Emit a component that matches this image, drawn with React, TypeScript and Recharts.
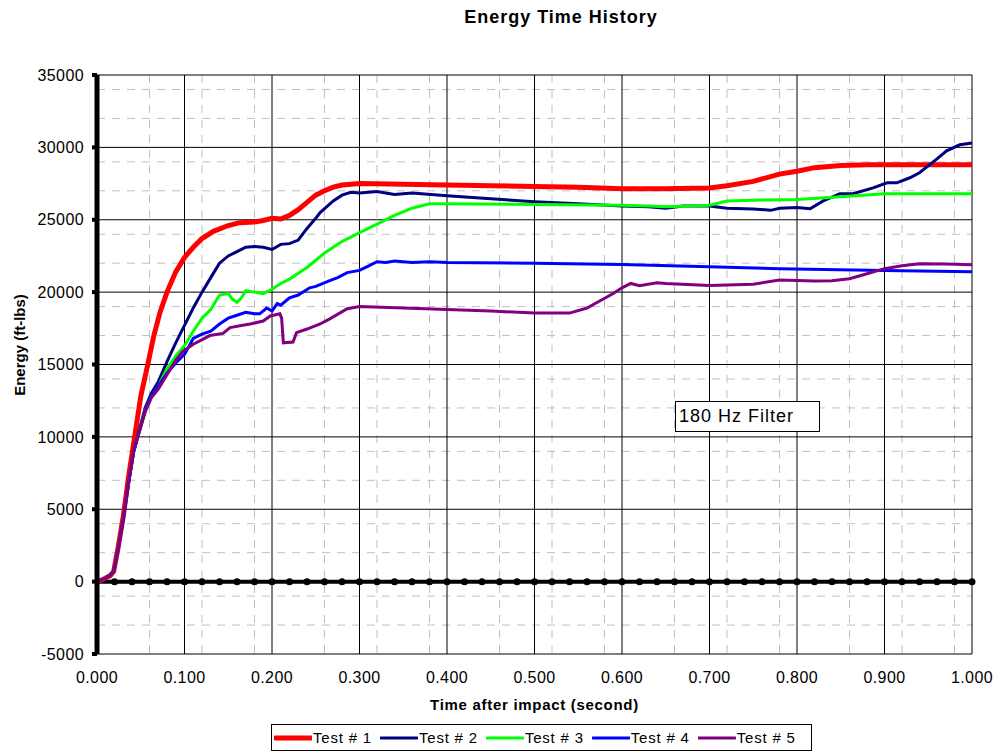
import React from 'react';
import {
  LineChart,
  Line,
  XAxis,
  YAxis,
  CartesianGrid,
  ReferenceLine,
  ReferenceDot,
} from 'recharts';

const timeTicks = [0, 0.1, 0.2, 0.3, 0.4, 0.5, 0.6, 0.7, 0.8, 0.9, 1.0];
const energyTicks = [-5000, 0, 5000, 10000, 15000, 20000, 25000, 30000, 35000];

// [time (s), energy (ft-lbs)]
const test1: [number, number][] = [
  [0, 0], [0.005, 100], [0.01, 250], [0.015, 400], [0.019, 700], [0.024, 2300],
  [0.03, 4500], [0.036, 7200], [0.043, 10000], [0.05, 12800], [0.058, 15000],
  [0.065, 17000], [0.072, 18600], [0.08, 20000], [0.09, 21400], [0.1, 22400],
  [0.11, 23100], [0.12, 23700], [0.133, 24200], [0.15, 24600], [0.163, 24800],
  [0.18, 24850], [0.19, 24950], [0.2, 25100], [0.21, 25050], [0.22, 25300],
  [0.23, 25700], [0.24, 26200], [0.25, 26700], [0.26, 27000], [0.27, 27250],
  [0.28, 27400], [0.29, 27450], [0.3, 27500], [0.35, 27450], [0.4, 27400],
  [0.45, 27350], [0.5, 27300], [0.55, 27250], [0.6, 27150], [0.65, 27150],
  [0.7, 27200], [0.72, 27350], [0.75, 27650], [0.78, 28150], [0.8, 28350],
  [0.82, 28600], [0.85, 28750], [0.88, 28800], [0.95, 28800], [1.0, 28800],
];

const test2: [number, number][] = [
  [0, 0], [0.005, 100], [0.01, 250], [0.015, 450], [0.019, 700], [0.024, 2200],
  [0.03, 4300], [0.036, 6800], [0.042, 9000], [0.048, 10400], [0.055, 12000],
  [0.062, 13000], [0.07, 13800], [0.08, 15200], [0.09, 16500], [0.1, 17700],
  [0.11, 18900], [0.12, 20000], [0.13, 21000], [0.14, 22000], [0.15, 22500],
  [0.16, 22800], [0.17, 23100], [0.18, 23150], [0.19, 23100], [0.2, 22950],
  [0.21, 23300], [0.22, 23350], [0.23, 23600], [0.24, 24400], [0.25, 25100],
  [0.255, 25500], [0.27, 26300], [0.28, 26700], [0.29, 26900], [0.3, 26850],
  [0.32, 26950], [0.34, 26750], [0.36, 26850], [0.4, 26650], [0.45, 26450],
  [0.5, 26250], [0.55, 26100], [0.6, 25950], [0.63, 25900], [0.65, 25800],
  [0.67, 25950], [0.7, 25950], [0.72, 25800], [0.75, 25750], [0.77, 25650],
  [0.78, 25800], [0.8, 25850], [0.815, 25760], [0.83, 26300], [0.849, 26800],
  [0.864, 26800], [0.887, 27200], [0.903, 27550], [0.914, 27550], [0.929, 27900],
  [0.94, 28250], [0.96, 29200], [0.971, 29760], [0.986, 30180], [1.0, 30300],
];

const test3: [number, number][] = [
  [0, 0], [0.005, 100], [0.01, 250], [0.015, 450], [0.019, 700], [0.024, 2200],
  [0.03, 4300], [0.036, 6800], [0.042, 9000], [0.048, 10300], [0.055, 11800],
  [0.062, 12800], [0.07, 13500], [0.08, 14700], [0.09, 15600], [0.1, 16300],
  [0.11, 17300], [0.12, 18200], [0.13, 18800], [0.14, 19800], [0.15, 19900],
  [0.155, 19500], [0.16, 19300], [0.165, 19600], [0.17, 20100], [0.18, 20000],
  [0.19, 19900], [0.2, 20200], [0.21, 20600], [0.22, 20900], [0.23, 21300],
  [0.24, 21700], [0.25, 22200], [0.26, 22700], [0.27, 23100], [0.28, 23500],
  [0.29, 23800], [0.3, 24100], [0.32, 24700], [0.34, 25300], [0.36, 25800],
  [0.38, 26100], [0.4, 26100], [0.5, 26050], [0.6, 26000], [0.63, 25950],
  [0.65, 25900], [0.68, 25950], [0.7, 26000], [0.72, 26300], [0.75, 26350],
  [0.8, 26400], [0.85, 26590], [0.9, 26800], [0.95, 26800], [1.0, 26800],
];

const test4: [number, number][] = [
  [0, 0], [0.005, 100], [0.01, 250], [0.015, 450], [0.019, 700], [0.024, 2200],
  [0.03, 4300], [0.036, 6800], [0.042, 9000], [0.048, 10300], [0.055, 11800],
  [0.062, 12800], [0.07, 13500], [0.08, 14400], [0.09, 15100], [0.1, 15700],
  [0.11, 16800], [0.12, 17100], [0.13, 17300], [0.14, 17800], [0.15, 18200],
  [0.16, 18400], [0.17, 18600], [0.18, 18500], [0.186, 18500], [0.194, 18900],
  [0.2, 18700], [0.206, 19200], [0.21, 19100], [0.22, 19600], [0.23, 19800],
  [0.243, 20300], [0.25, 20400], [0.266, 20800], [0.275, 21000], [0.286, 21350],
  [0.3, 21500], [0.31, 21800], [0.32, 22100], [0.33, 22050], [0.34, 22150],
  [0.36, 22050], [0.38, 22100], [0.4, 22050], [0.5, 22000], [0.6, 21900],
  [0.7, 21750], [0.78, 21620], [0.9, 21500], [1.0, 21400],
];

const test5: [number, number][] = [
  [0, 0], [0.005, 100], [0.01, 250], [0.015, 450], [0.019, 700], [0.024, 2200],
  [0.03, 4300], [0.036, 6800], [0.042, 9000], [0.048, 10300], [0.055, 11700],
  [0.062, 12700], [0.07, 13300], [0.08, 14300], [0.09, 15300], [0.098, 15900],
  [0.11, 16400], [0.118, 16650], [0.129, 17000], [0.144, 17150], [0.152, 17550],
  [0.165, 17700], [0.175, 17800], [0.19, 18000], [0.198, 18350], [0.209, 18500],
  [0.211, 18200], [0.213, 16500], [0.224, 16550], [0.228, 17200], [0.24, 17450],
  [0.255, 17800], [0.266, 18150], [0.286, 18850], [0.3, 19000], [0.35, 18900],
  [0.4, 18800], [0.45, 18700], [0.5, 18550], [0.54, 18550], [0.56, 18900],
  [0.575, 19400], [0.59, 19900], [0.6, 20300], [0.61, 20600], [0.62, 20450],
  [0.64, 20650], [0.65, 20600], [0.7, 20450], [0.75, 20550], [0.78, 20840],
  [0.82, 20770], [0.84, 20780], [0.86, 20920], [0.88, 21270], [0.9, 21620],
  [0.92, 21820], [0.94, 21960], [0.97, 21950], [1.0, 21890],
];

const series = [
  { name: 'Test # 1', color: '#FF0000', width: 5, points: test1 },
  { name: 'Test # 2', color: '#000080', width: 3, points: test2 },
  { name: 'Test # 3', color: '#00FF00', width: 3, points: test3 },
  { name: 'Test # 4', color: '#0000FF', width: 3, points: test4 },
  { name: 'Test # 5', color: '#800080', width: 3, points: test5 },
];

// minor gridlines: every 0.02 s and every 1000 ft-lbs
const minorTimes: number[] = [];
for (let i = 1; i < 50; i++) if (i % 5 !== 0) minorTimes.push(i / 50);
const minorEnergies: number[] = [];
for (let e = -4000; e < 35000; e += 1000) if (e % 5000 !== 0) minorEnergies.push(e);
const zeroTicks: number[] = [];
for (let i = 1; i <= 50; i++) zeroTicks.push(i / 50);

const font = '"Liberation Sans", Arial, sans-serif';

export default function App() {
  return (
    <div style={{ position: 'absolute', left: 0, top: 0, width: 995, height: 752, fontFamily: font, background: '#fff' }}>
      <div style={{ position: 'absolute', top: 7, left: 0, width: 1122, textAlign: 'center', fontSize: 18, fontWeight: 'bold', letterSpacing: 1 }}>
        Energy Time History
      </div>

      <LineChart width={995} height={752} margin={{ top: 75, right: 23, left: 37, bottom: 68 }}>
        <CartesianGrid
          stroke="#c0c0c0"
          strokeWidth={1}
          strokeDasharray="8 7"
          horizontalValues={minorEnergies}
          verticalValues={minorTimes}
        />
        <CartesianGrid stroke="#000" strokeWidth={1} />
        <XAxis
          type="number"
          dataKey="t"
          domain={[0, 1]}
          ticks={timeTicks}
          tickFormatter={(v: number) => v.toFixed(3)}
          axisLine={false}
          tickLine={false}
          tickMargin={12}
          height={30}
          allowDuplicatedCategory={false}
          tick={{ fill: '#000', fontSize: 16, letterSpacing: 0.4 }}
        />
        <YAxis
          type="number"
          domain={[-5000, 35000]}
          ticks={energyTicks}
          width={60}
          axisLine={{ stroke: '#000', strokeWidth: 5 }}
          tickLine={{ stroke: '#000', strokeWidth: 4 }}
          tickSize={5}
          tickMargin={8}
          tick={{ fill: '#000', fontSize: 16, letterSpacing: 0.4 }}
        />
        <ReferenceLine y={0} stroke="#000" strokeWidth={4} />
        {zeroTicks.map((t) => (
          <ReferenceDot key={t} x={t} y={0} r={3.5} fill="#000" stroke="none" />
        ))}
        {series.map((s) => (
          <Line
            key={s.name}
            data={s.points.map(([t, v]) => ({ t, v }))}
            dataKey="v"
            name={s.name}
            type="linear"
            stroke={s.color}
            strokeWidth={s.width}
            dot={false}
            activeDot={false}
            isAnimationActive={false}
          />
        ))}
      </LineChart>

      <div style={{ position: 'absolute', left: 8, top: 345, transform: 'translate(-50%, -50%) rotate(-90deg)', marginLeft: 11, fontSize: 15, fontWeight: 'bold', whiteSpace: 'nowrap' }}>
        Energy (ft-lbs)
      </div>
      <div style={{ position: 'absolute', left: 97, width: 875, top: 696, textAlign: 'center', fontSize: 15, fontWeight: 'bold', letterSpacing: 0.7 }}>
        Time after impact (second)
      </div>

      <div style={{ position: 'absolute', left: 675, top: 401, width: 145, height: 31, border: '1px solid #000', background: '#fff', boxSizing: 'border-box', fontSize: 18, letterSpacing: 1, paddingLeft: 3, lineHeight: '29px' }}>
        180 Hz Filter
      </div>

      <div style={{ position: 'absolute', left: 271, top: 724, width: 541, height: 27, border: '1px solid #000', boxSizing: 'border-box', display: 'flex', alignItems: 'center', paddingLeft: 2, fontSize: 15, letterSpacing: 0.8 }}>
        {series.map((s) => (
          <div key={s.name} style={{ display: 'flex', alignItems: 'center', marginRight: 8 }}>
            <svg width={38} height={10}>
              <line x1={1} y1={5} x2={37} y2={5} stroke={s.color} strokeWidth={s.width} strokeLinecap="round" />
            </svg>
            <span style={{ marginLeft: 1 }}>{s.name}</span>
          </div>
        ))}
      </div>
    </div>
  );
}
